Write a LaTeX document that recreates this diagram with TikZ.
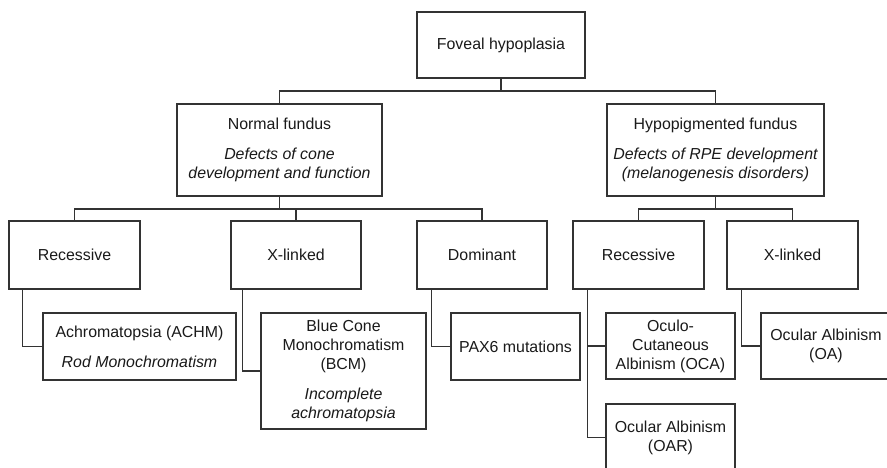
\documentclass[tikz,border=0pt]{standalone}
\usepackage{fontspec}
\setmainfont{Liberation Sans}
\definecolor{linec}{HTML}{333333}
\definecolor{textc}{HTML}{1A1A1A}
\begin{document}
\begin{tikzpicture}[x=1pt,y=-1pt,
  box/.style={draw=linec, line width=1.3pt, text=textc, align=center, inner sep=0pt,
    font=\fontsize{15.9}{18.9}\selectfont},
  conn/.style={draw=linec, line width=1.3pt}]
\useasboundingbox (0,0) rectangle (887,468);
\fill[white] (0,0) rectangle (887,468);
\clip (0,0) rectangle (887,468);
% level 0
\node[box, minimum width=168pt, minimum height=66pt] (root) at (501,45) {Foveal hypoplasia};
% level 1
\node[box, minimum width=205pt, minimum height=92pt] (NF) at (279.5,150)
  {Normal fundus\\[11pt]\itshape Defects of cone\\\itshape development and function};
\node[box, minimum width=217pt, minimum height=92pt] (HF) at (715.5,150)
  {Hypopigmented fundus\\[11pt]\itshape Defects of RPE development\\\itshape (melanogenesis disorders)};
% level 2
\node[box, minimum width=131pt, minimum height=68pt] (R1) at (74.5,255) {Recessive};
\node[box, minimum width=130pt, minimum height=68pt] (X1) at (296,255) {X-linked};
\node[box, minimum width=130pt, minimum height=68pt] (D1) at (482,255) {Dominant};
\node[box, minimum width=131pt, minimum height=68pt] (R2) at (638.5,255) {Recessive};
\node[box, minimum width=131pt, minimum height=68pt] (X2) at (792.5,255) {X-linked};
% level 3
\node[box, minimum width=193pt, minimum height=67pt] (ACHM) at (139.5,346.5)
  {Achromatopsia (ACHM)\\[11pt]\itshape Rod Monochromatism};
\node[box, minimum width=165pt, minimum height=116pt] (BCM) at (343.5,371)
  {Blue Cone\\Monochromatism\\(BCM)\\[11pt]\itshape Incomplete\\\itshape achromatopsia};
\node[box, minimum width=129pt, minimum height=67pt] (PAX) at (515.5,346.5) {PAX6 mutations};
\node[box, minimum width=129pt, minimum height=66pt] (OCA) at (670.5,346)
  {Oculo-\\Cutaneous\\Albinism (OCA)};
\node[box, minimum width=129pt, minimum height=67pt] (OAR) at (670.5,437.5)
  {Ocular Albinism\\(OAR)};
\node[box, minimum width=130pt, minimum height=66pt] (OA) at (826,346)
  {Ocular Albinism\\(OA)};
% connectors
\coordinate (b0) at (501,91);
\coordinate (b1) at (279.5,209);
\coordinate (b2) at (715.5,209);
\draw[conn] (root.south) -- (b0);
\draw[conn] (NF.north) |- (b0) -| (HF.north);
\draw[conn] (NF.south) -- (b1);
\draw[conn] (R1.north) |- (b1) -| (D1.north);
\draw[conn] (X1.north) -- (X1.north |- b1);
\draw[conn] (HF.south) -- (b2);
\draw[conn] (R2.north) |- (b2) -| (X2.north);
\draw[conn] ([xshift=14pt]R1.south west) |- (ACHM.west);
\draw[conn] ([xshift=12pt]X1.south west) |- (BCM.west);
\draw[conn] ([xshift=15pt]D1.south west) |- (PAX.west);
\draw[conn] ([xshift=15pt]R2.south west) |- (OCA.west);
\draw[conn] ([xshift=15pt]R2.south west) |- (OAR.west);
\draw[conn] ([xshift=15pt]X2.south west) |- (OA.west);
\end{tikzpicture}
\end{document}
